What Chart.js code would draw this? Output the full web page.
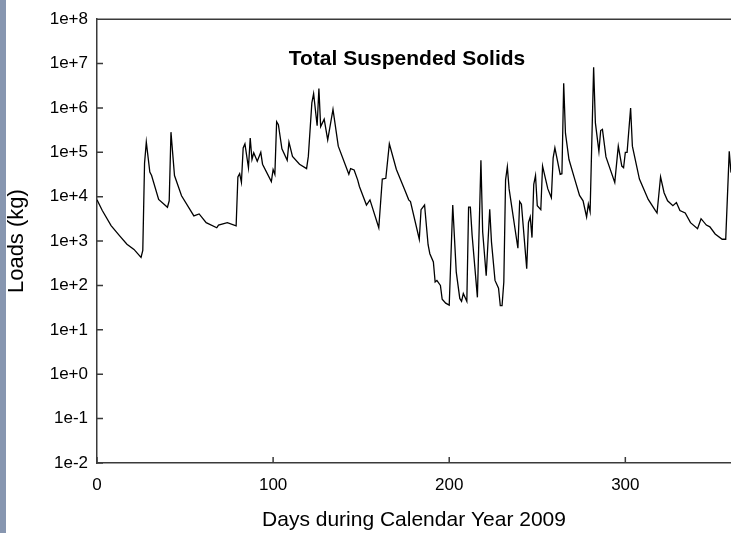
<!DOCTYPE html>
<html>
<head>
<meta charset="utf-8">
<title>Total Suspended Solids</title>
<script src="https://cdn.jsdelivr.net/npm/chart.js@4/dist/chart.umd.min.js"></script>
<style>
  html, body { margin: 0; padding: 0; background: #fff; overflow: hidden; }
  #wrap { position: relative; width: 731px; height: 533px; }
  #strip { position: absolute; left: 0; top: 0; width: 6px; height: 533px; background: #8796b0; }
  canvas { position: absolute; left: 0; top: 0; }
</style>
</head>
<body>
<div id="wrap">
  <canvas id="chart" width="731" height="533"></canvas>
  <div id="strip"></div>
</div>
<script>
// Daily TSS loads, calendar year 2009
const days = [
  0, 3, 8, 13, 17, 21, 25, 26, 27, 28, 30, 31, 35, 40, 41, 42, 44, 48, 55, 58,
  62, 68, 69, 74, 79, 80, 81, 82, 83, 84, 86, 87, 88, 89, 91, 93, 94, 99, 100, 101,
  102, 103, 105, 108, 109, 111, 115, 119, 120, 122, 123, 125, 126, 127, 129, 131, 134, 137, 143, 144,
  146, 148, 149, 153, 155, 160, 162, 164, 166, 170, 175, 177, 178, 183, 184, 186, 188, 189, 191, 192,
  193, 195, 196, 198, 200, 202, 204, 206, 207, 208, 210, 211, 212, 213, 216, 218, 219, 221, 223, 224,
  226, 228, 229, 230, 231, 232, 233, 234, 239, 240, 241, 244, 245, 246, 247, 248, 249, 250, 252, 253,
  256, 258, 259, 260, 263, 264, 265, 266, 268, 271, 274, 276, 278, 279, 280, 282, 283, 285, 286, 287,
  289, 294, 296, 298, 299, 300, 301, 303, 304, 308, 313, 317, 318, 320, 322, 324, 327, 329, 331, 334,
  337, 341, 343, 346, 348, 351, 355, 357, 359, 360
];
const loads = [
  8500, 4900, 2240, 1300, 850, 650, 430, 620, 57000, 170000, 36000, 30000, 8700, 5800, 8100, 285000, 30000, 10500, 3700, 4100,
  2600, 2000, 2300, 2600, 2200, 28000, 33000, 21000, 126000, 155000, 45000, 210000, 69000, 98000, 63000, 100000, 54000, 22000, 41000, 32000,
  490000, 420000, 120000, 66000, 170000, 81000, 54000, 43000, 81000, 1300000, 2100000, 400000, 2750000, 380000, 560000, 190000, 930000, 138000, 32000, 43000,
  40000, 24000, 17000, 6500, 8500, 2000, 25000, 26000, 155000, 41000, 13500, 8500, 7800, 1100, 5100, 6500, 830, 520, 340, 120,
  130, 100, 49, 40, 36, 6500, 200, 51, 44, 66, 44, 5800, 5800, 1350, 54, 66000, 1600, 166, 5200, 950,
  130, 87, 35, 35, 120, 24000, 47000, 15000, 690, 7800, 6800, 240, 2600, 3500, 1200, 19000, 30000, 6300, 5100, 49000,
  15000, 9500, 74000, 126000, 32000, 33000, 3600000, 270000, 69000, 27000, 10700, 8100, 3500, 6800, 4600, 8300000, 460000, 105000, 310000, 330000,
  79000, 21000, 138000, 49000, 45000, 100000, 100000, 1000000, 138000, 25000, 8700, 4900, 4300, 28000, 12300, 8100, 6300, 7400, 4900, 4300,
  2600, 1900, 3200, 2300, 2100, 1450, 1100, 1100, 105000, 35000
];

const xTickValues = [0, 100, 200, 300];
const yTickValues = [1e-2, 1e-1, 1e0, 1e1, 1e2, 1e3, 1e4, 1e5, 1e6, 1e7, 1e8];
const yTickLabels = ['1e-2', '1e-1', '1e+0', '1e+1', '1e+2', '1e+3', '1e+4', '1e+5', '1e+6', '1e+7', '1e+8'];

const chartTitle = 'Total Suspended Solids';
const xTitle = 'Days during Calendar Year 2009';
const yTitle = 'Loads (kg)';

const FONT = "'Liberation Sans', Arial, Helvetica, sans-serif";
const AXIS_COLOR = '#3a3a3a';

const points = days.map((d, i) => ({ x: d, y: loads[i] }));

// Top frame line, inward tick marks and the in-plot heading
const framePlugin = {
  id: 'frame',
  afterDraw(chart) {
    const { ctx, chartArea: a, scales } = chart;
    ctx.save();
    ctx.strokeStyle = AXIS_COLOR;
    ctx.lineWidth = 1.5;
    ctx.beginPath();
    ctx.moveTo(a.left, a.top);
    ctx.lineTo(a.right, a.top);
    yTickValues.forEach(v => {
      const y = scales.y.getPixelForValue(v);
      ctx.moveTo(a.left, y);
      ctx.lineTo(a.left + 6, y);
    });
    xTickValues.forEach(v => {
      const x = scales.x.getPixelForValue(v);
      ctx.moveTo(x, a.bottom);
      ctx.lineTo(x, a.bottom - 6);
    });
    ctx.stroke();

    ctx.fillStyle = '#000';
    ctx.font = 'bold 21px ' + FONT;
    ctx.textAlign = 'center';
    ctx.textBaseline = 'alphabetic';
    ctx.fillText(chartTitle, 407, 65);
    ctx.restore();
  }
};

new Chart(document.getElementById('chart'), {
  type: 'line',
  data: {
    datasets: [{
      data: points,
      borderColor: '#000',
      borderWidth: 1.3,
      pointRadius: 0,
      tension: 0,
      fill: false
    }]
  },
  options: {
    responsive: false,
    animation: false,
    events: [],
    layout: { padding: { top: 15, right: 0, bottom: 0, left: 0 } },
    plugins: {
      legend: { display: false },
      title: { display: false },
      tooltip: { enabled: false }
    },
    scales: {
      x: {
        type: 'linear',
        position: 'bottom',
        min: 0,
        max: 360,
        afterBuildTicks: s => { s.ticks = xTickValues.map(v => ({ value: v })); },
        afterFit: s => { s.height = 70; },
        grid: { display: true, drawOnChartArea: false, drawTicks: false },
        border: { display: true, color: AXIS_COLOR, width: 1.5 },
        ticks: {
          color: '#000',
          font: { family: FONT, size: 17 },
          padding: 12,
          maxRotation: 0,
          autoSkip: false,
          callback: v => String(v)
        },
        title: {
          display: true,
          text: xTitle,
          color: '#000',
          font: { family: FONT, size: 21 },
          padding: { top: 0, bottom: 0 }
        }
      },
      y: {
        type: 'logarithmic',
        position: 'left',
        min: 1e-2,
        max: 1e8,
        afterBuildTicks: s => { s.ticks = yTickValues.map(v => ({ value: v })); },
        afterFit: s => { s.width = 97; },
        grid: { display: true, drawOnChartArea: false, drawTicks: false },
        border: { display: true, color: AXIS_COLOR, width: 1.5 },
        ticks: {
          color: '#000',
          font: { family: FONT, size: 17 },
          padding: 9,
          autoSkip: false,
          callback: (v) => {
            const i = yTickValues.findIndex(t => Math.abs(Math.log10(t) - Math.log10(v)) < 1e-6);
            return i >= 0 ? yTickLabels[i] : '';
          }
        },
        title: {
          display: true,
          text: yTitle,
          color: '#000',
          font: { family: FONT, size: 22 },
          padding: { top: 4, bottom: 0 }
        }
      }
    }
  },
  plugins: [framePlugin]
});
</script>
</body>
</html>
